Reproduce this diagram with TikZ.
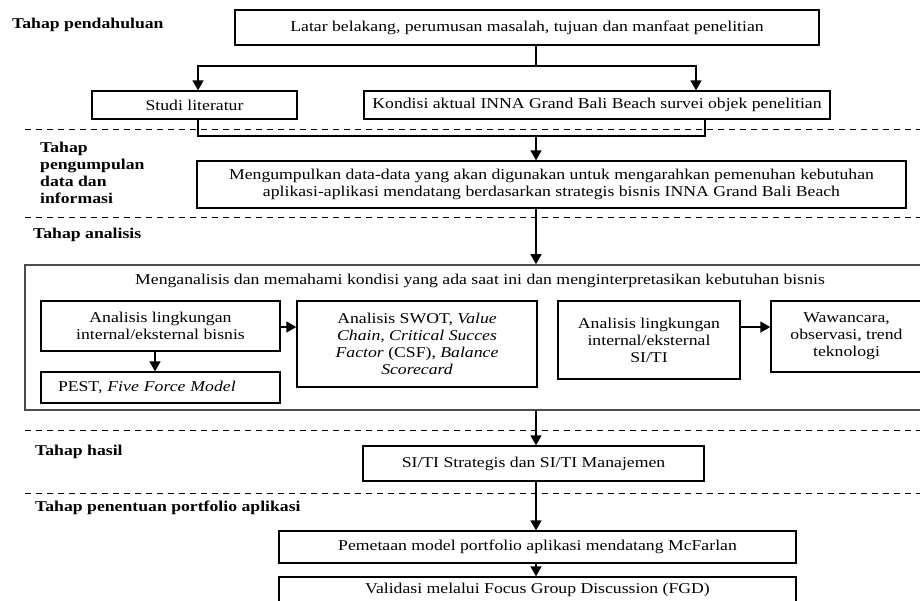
\documentclass[tikz,border=0pt]{standalone}
\usepackage{fontspec}
\setmainfont{Liberation Serif}[FakeStretch=1.18]
\usetikzlibrary{arrows.meta}
\newcommand\myfs{\fontsize{15pt}{17pt}\selectfont}
\begin{document}
\begin{tikzpicture}[x=1pt,y=-1pt,
  box/.style={draw, line width=1.3pt, inner sep=0pt, align=center, font=\myfs},
  lab/.style={font=\myfs\bfseries, anchor=west, inner sep=0pt, align=left},
  arr/.style={line width=1.5pt, -{Triangle[length=10pt,width=11pt]}},
  ln/.style={line width=1.5pt},
  dsh/.style={dash pattern=on 6pt off 5pt, line width=0.9pt}]
\useasboundingbox (0,0) rectangle (920,600);

% labels
\node[lab] (l1) at (12,25) {Tahap pendahuluan};
\node[lab, anchor=north west] (l2) at (40,142) {Tahap\\pengumpulan\\data dan\\informasi};
\node[lab] (l3) at (33,235) {Tahap analisis};
\node[lab] (l4) at (35,452) {Tahap hasil};
\node[lab] (l5) at (35,508) {Tahap penentuan portfolio aplikasi};

% dashed separators
\coordinate (d1a) at (25,129); \coordinate (d1b) at (922,129);
\coordinate (d2a) at (25,217); \coordinate (d2b) at (922,217);
\coordinate (d3a) at (25,430); \coordinate (d3b) at (922,430);
\coordinate (d4a) at (25,493); \coordinate (d4b) at (922,493);
\draw[dsh] (d1a) -- (d1b);
\draw[dsh] (d2a) -- (d2b);
\draw[dsh] (d3a) -- (d3b);
\draw[dsh] (d4a) -- (d4b);

% boxes
\node[box, minimum width=584pt, minimum height=35pt] (top) at (527,27.5)
  {Latar belakang, perumusan masalah, tujuan dan manfaat penelitian};
\node[box, minimum width=205pt, minimum height=28pt] (studi) at (194.5,105) {Studi literatur};
\node[box, minimum width=466pt, minimum height=28pt] (kond) at (597,105)
  {Kondisi aktual INNA Grand Bali Beach survei objek penelitian};
\node[box, minimum width=709pt, minimum height=47pt] (kumpul) at (551.5,184.5)
  {Mengumpulkan data-data yang akan digunakan untuk mengarahkan pemenuhan kebutuhan\\
   aplikasi-aplikasi mendatang berdasarkan strategis bisnis INNA Grand Bali Beach};
\node[draw=black!70, line width=1.6pt, inner sep=0pt, minimum width=897pt, minimum height=145pt] (big) at (473.5,337.5) {};
\node[font=\myfs, inner sep=0pt] (bigt) at (480,281)
  {Menganalisis dan memahami kondisi yang ada saat ini dan menginterpretasikan kebutuhan bisnis};
\node[box, minimum width=239pt, minimum height=50pt] (ana) at (160.5,326)
  {Analisis lingkungan\\internal/eksternal bisnis};
\node[box, minimum width=239pt, minimum height=31pt, text width=205pt, align=left] (pest) at (160.5,387.5)
  {PEST, \textit{Five Force Model}};
\node[box, minimum width=240pt, minimum height=86pt] (swot) at (417,344)
  {Analisis SWOT, \textit{Value}\\ \textit{Chain, Critical Succes}\\ \textit{Factor} (CSF), \textit{Balance}\\ \textit{Scorecard}};
\node[box, minimum width=182pt, minimum height=78pt] (siti) at (649,340)
  {Analisis lingkungan\\internal/eksternal\\SI/TI};
\node[box, minimum width=151pt, minimum height=71pt] (waw) at (846.5,336.5)
  {Wawancara,\\observasi, trend\\teknologi};
\node[box, minimum width=341pt, minimum height=35pt] (hasil) at (533.5,463.5)
  {SI/TI Strategis dan SI/TI Manajemen};
\node[box, minimum width=517pt, minimum height=32pt] (peta) at (537.5,547)
  {Pemetaan model portfolio aplikasi mendatang McFarlan};
\node[box, minimum width=517pt, minimum height=26pt] (valid) at (537.5,590)
  {Validasi melalui Focus Group Discussion (FGD)};

% connectors
\coordinate (j1) at (536,66);
\coordinate (j1l) at (198,66);
\coordinate (j1r) at (696,66);
\draw[ln] (top.south -| j1) -- (j1);
\draw[arr] (j1) -- (j1l) -- (studi.north -| j1l);
\draw[arr] (j1) -- (j1r) -- (kond.north -| j1r);

\coordinate (j2l) at (198,136);
\coordinate (j2r) at (705,136);
\coordinate (j2) at (536,136);
\draw[ln] (studi.south -| j2l) -- (j2l) -- (j2r) -- (kond.south -| j2r);
\draw[arr] (j2) -- (kumpul.north -| j2);
\draw[arr] (kumpul.south -| j2) -- (big.north -| j2);

\draw[arr] (ana.south -| 155,0) -- (pest.north -| 155,0);
\draw[arr] (ana.east |- 0,327) -- (swot.west |- 0,327);
\draw[arr] (siti.east |- 0,327) -- (waw.west |- 0,327);

\draw[arr] (big.south -| j2) -- (hasil.north -| j2);
\draw[arr] (hasil.south -| j2) -- (peta.north -| j2);
\draw[arr] (peta.south -| j2) -- (valid.north -| j2);
\end{tikzpicture}
\end{document}
